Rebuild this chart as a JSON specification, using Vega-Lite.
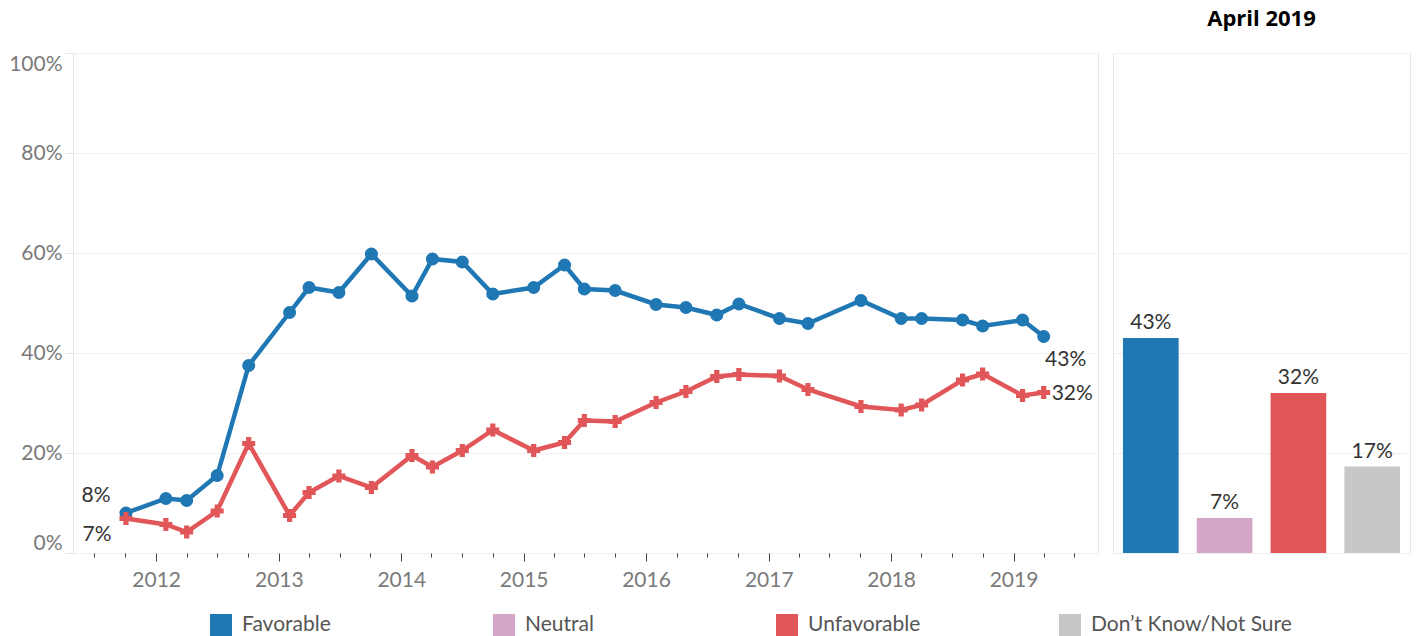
{
  "$schema": "https://vega.github.io/schema/vega-lite/v6.json",
  "background": "white",
  "padding": {"left": 8, "top": 7, "right": 5, "bottom": 0},
  "spacing": 15,
  "bounds": "flush",
  "config": {
    "view": {"stroke": "#e6e6e6", "strokeWidth": 1},
    "font": "Lato",
    "axis": {"labelFont": "Lato"},
    "legend": {
      "title": null,
      "orient": "none",
      "direction": "horizontal",
      "legendX": 137,
      "legendY": 561,
      "padding": 0,
      "symbolType": "square",
      "symbolSize": 484,
      "symbolStrokeWidth": 0,
      "symbolOpacity": 1,
      "labelFontSize": 21,
      "labelFont": "Lato",
      "labelColor": "#555",
      "labelOffset": 10,
      "labelLimit": 400,
      "gridAlign": "all",
      "columnPadding": 50
    }
  },
  "datasets": {
    "trend": [
      {"date": "2011-10-03", "status": "Favorable", "value": 0.080},
      {"date": "2012-01-30", "status": "Favorable", "value": 0.109},
      {"date": "2012-04-01", "status": "Favorable", "value": 0.105},
      {"date": "2012-07-01", "status": "Favorable", "value": 0.155},
      {"date": "2012-10-03", "status": "Favorable", "value": 0.375},
      {"date": "2013-02-02", "status": "Favorable", "value": 0.481},
      {"date": "2013-04-01", "status": "Favorable", "value": 0.531},
      {"date": "2013-06-29", "status": "Favorable", "value": 0.521},
      {"date": "2013-10-04", "status": "Favorable", "value": 0.598},
      {"date": "2014-02-02", "status": "Favorable", "value": 0.514},
      {"date": "2014-04-04", "status": "Favorable", "value": 0.588},
      {"date": "2014-07-02", "status": "Favorable", "value": 0.582},
      {"date": "2014-10-01", "status": "Favorable", "value": 0.518},
      {"date": "2015-01-31", "status": "Favorable", "value": 0.531},
      {"date": "2015-05-03", "status": "Favorable", "value": 0.576},
      {"date": "2015-07-01", "status": "Favorable", "value": 0.528},
      {"date": "2015-10-01", "status": "Favorable", "value": 0.525},
      {"date": "2016-01-31", "status": "Favorable", "value": 0.497},
      {"date": "2016-04-29", "status": "Favorable", "value": 0.491},
      {"date": "2016-07-30", "status": "Favorable", "value": 0.476},
      {"date": "2016-10-04", "status": "Favorable", "value": 0.498},
      {"date": "2017-02-02", "status": "Favorable", "value": 0.469},
      {"date": "2017-04-28", "status": "Favorable", "value": 0.459},
      {"date": "2017-10-03", "status": "Favorable", "value": 0.505},
      {"date": "2018-01-31", "status": "Favorable", "value": 0.469},
      {"date": "2018-04-02", "status": "Favorable", "value": 0.469},
      {"date": "2018-08-02", "status": "Favorable", "value": 0.466},
      {"date": "2018-10-01", "status": "Favorable", "value": 0.454},
      {"date": "2019-01-28", "status": "Favorable", "value": 0.466},
      {"date": "2019-04-01", "status": "Favorable", "value": 0.433},
      {"date": "2011-10-03", "status": "Unfavorable", "value": 0.069},
      {"date": "2012-01-30", "status": "Unfavorable", "value": 0.057},
      {"date": "2012-04-01", "status": "Unfavorable", "value": 0.042},
      {"date": "2012-07-01", "status": "Unfavorable", "value": 0.084},
      {"date": "2012-10-03", "status": "Unfavorable", "value": 0.219},
      {"date": "2013-02-02", "status": "Unfavorable", "value": 0.075},
      {"date": "2013-04-01", "status": "Unfavorable", "value": 0.121},
      {"date": "2013-06-29", "status": "Unfavorable", "value": 0.154},
      {"date": "2013-10-04", "status": "Unfavorable", "value": 0.131},
      {"date": "2014-02-02", "status": "Unfavorable", "value": 0.195},
      {"date": "2014-04-04", "status": "Unfavorable", "value": 0.172},
      {"date": "2014-07-02", "status": "Unfavorable", "value": 0.205},
      {"date": "2014-10-01", "status": "Unfavorable", "value": 0.246},
      {"date": "2015-01-31", "status": "Unfavorable", "value": 0.205},
      {"date": "2015-05-03", "status": "Unfavorable", "value": 0.221},
      {"date": "2015-07-01", "status": "Unfavorable", "value": 0.265},
      {"date": "2015-10-01", "status": "Unfavorable", "value": 0.263},
      {"date": "2016-01-31", "status": "Unfavorable", "value": 0.301},
      {"date": "2016-04-29", "status": "Unfavorable", "value": 0.323},
      {"date": "2016-07-30", "status": "Unfavorable", "value": 0.353},
      {"date": "2016-10-04", "status": "Unfavorable", "value": 0.357},
      {"date": "2017-02-02", "status": "Unfavorable", "value": 0.354},
      {"date": "2017-04-28", "status": "Unfavorable", "value": 0.327},
      {"date": "2017-10-03", "status": "Unfavorable", "value": 0.293},
      {"date": "2018-01-31", "status": "Unfavorable", "value": 0.286},
      {"date": "2018-04-02", "status": "Unfavorable", "value": 0.296},
      {"date": "2018-08-02", "status": "Unfavorable", "value": 0.346},
      {"date": "2018-10-01", "status": "Unfavorable", "value": 0.358},
      {"date": "2019-01-28", "status": "Unfavorable", "value": 0.315},
      {"date": "2019-04-01", "status": "Unfavorable", "value": 0.321}
    ],
    "latest": [
      {"status": "Favorable", "value": 0.43},
      {"status": "Neutral", "value": 0.07},
      {"status": "Unfavorable", "value": 0.32},
      {"status": "Don’t Know/Not Sure", "value": 0.173}
    ]
  },
  "hconcat": [
    {
      "width": 1025,
      "height": 500,
      "data": {"name": "trend"},
      "encoding": {
        "x": {
          "field": "date",
          "type": "temporal",
          "scale": {
            "type": "utc",
            "domain": [
              {"year": 2011, "month": 4, "date": 28, "utc": true},
              {"year": 2019, "month": 9, "date": 10, "utc": true}
            ]
          },
          "axis": {
            "title": null,
            "domain": false,
            "grid": false,
            "values": [
              {"year": 2011, "month": 7, "date": 1, "utc": true},
              {"year": 2011, "month": 10, "date": 1, "utc": true},
              {"year": 2012, "month": 1, "date": 1, "utc": true},
              {"year": 2012, "month": 4, "date": 1, "utc": true},
              {"year": 2012, "month": 7, "date": 1, "utc": true},
              {"year": 2012, "month": 10, "date": 1, "utc": true},
              {"year": 2013, "month": 1, "date": 1, "utc": true},
              {"year": 2013, "month": 4, "date": 1, "utc": true},
              {"year": 2013, "month": 7, "date": 1, "utc": true},
              {"year": 2013, "month": 10, "date": 1, "utc": true},
              {"year": 2014, "month": 1, "date": 1, "utc": true},
              {"year": 2014, "month": 4, "date": 1, "utc": true},
              {"year": 2014, "month": 7, "date": 1, "utc": true},
              {"year": 2014, "month": 10, "date": 1, "utc": true},
              {"year": 2015, "month": 1, "date": 1, "utc": true},
              {"year": 2015, "month": 4, "date": 1, "utc": true},
              {"year": 2015, "month": 7, "date": 1, "utc": true},
              {"year": 2015, "month": 10, "date": 1, "utc": true},
              {"year": 2016, "month": 1, "date": 1, "utc": true},
              {"year": 2016, "month": 4, "date": 1, "utc": true},
              {"year": 2016, "month": 7, "date": 1, "utc": true},
              {"year": 2016, "month": 10, "date": 1, "utc": true},
              {"year": 2017, "month": 1, "date": 1, "utc": true},
              {"year": 2017, "month": 4, "date": 1, "utc": true},
              {"year": 2017, "month": 7, "date": 1, "utc": true},
              {"year": 2017, "month": 10, "date": 1, "utc": true},
              {"year": 2018, "month": 1, "date": 1, "utc": true},
              {"year": 2018, "month": 4, "date": 1, "utc": true},
              {"year": 2018, "month": 7, "date": 1, "utc": true},
              {"year": 2018, "month": 10, "date": 1, "utc": true},
              {"year": 2019, "month": 1, "date": 1, "utc": true},
              {"year": 2019, "month": 4, "date": 1, "utc": true},
              {"year": 2019, "month": 7, "date": 1, "utc": true}
            ],
            "labelExpr": "utcmonth(datum.value) == 0 ? utcFormat(datum.value, '%Y') : ''",
            "labelOverlap": false,
            "tickColor": "#444",
            "tickSize": {"condition": {"test": "utcmonth(datum.value) == 0", "value": 8}, "value": 4},
            "labelFontSize": 21,
            "labelColor": "#7a7a7a",
            "labelPadding": 8
          }
        },
        "y": {
          "field": "value",
          "type": "quantitative",
          "scale": {"domain": [0, 1]},
          "axis": {
            "title": null,
            "domain": false,
            "values": [0, 0.2, 0.4, 0.6, 0.8, 1],
            "format": ".0%",
            "grid": true,
            "gridColor": "#efefef",
            "tickColor": "#e6e6e6",
            "tickSize": 8,
            "labelFontSize": 21,
            "labelColor": "#7a7a7a",
            "labelPadding": 3,
            "labelFlush": true
          }
        }
      },
      "layer": [
        {
          "mark": {"type": "line", "strokeWidth": 4.5},
          "encoding": {
            "color": {
              "field": "status",
              "type": "nominal",
              "scale": {
                "domain": ["Favorable", "Neutral", "Unfavorable", "Don’t Know/Not Sure"],
                "range": ["#1f77b4", "#d4a6c8", "#e15759", "#c7c7c7"]
              }
            }
          }
        },
        {
          "mark": {"type": "point", "filled": true, "opacity": 1, "size": 170},
          "encoding": {
            "color": {"field": "status", "type": "nominal"},
            "shape": {
              "field": "status",
              "type": "nominal",
              "scale": {"domain": ["Favorable", "Unfavorable"], "range": ["circle", "cross"]},
              "legend": null
            }
          }
        },
        {
          "transform": [{"filter": "datum.status == 'Favorable' && utcyear(datum.date) == 2011"}],
          "mark": {"type": "text", "fontSize": 21, "color": "#333", "dx": -30, "dy": -17},
          "encoding": {"text": {"field": "value", "type": "quantitative", "format": ".0%"}}
        },
        {
          "transform": [{"filter": "datum.status == 'Unfavorable' && utcyear(datum.date) == 2011"}],
          "mark": {"type": "text", "fontSize": 21, "color": "#333", "dx": -29, "dy": 16},
          "encoding": {"text": {"field": "value", "type": "quantitative", "format": ".0%"}}
        },
        {
          "transform": [{"filter": "datum.status == 'Favorable' && utcyear(datum.date) == 2019 && utcmonth(datum.date) == 3"}],
          "mark": {"type": "text", "fontSize": 21, "color": "#333", "dx": 22, "dy": 23},
          "encoding": {"text": {"field": "value", "type": "quantitative", "format": ".0%"}}
        },
        {
          "transform": [{"filter": "datum.status == 'Unfavorable' && utcyear(datum.date) == 2019 && utcmonth(datum.date) == 3"}],
          "mark": {"type": "text", "fontSize": 21, "color": "#333", "align": "left", "dx": 8, "dy": 1},
          "encoding": {"text": {"field": "value", "type": "quantitative", "format": ".0%"}}
        }
      ]
    },
    {
      "width": 297,
      "height": 500,
      "title": {"text": "April 2019", "font": "Open Sans", "fontSize": 22, "fontWeight": "bold", "color": "#000", "offset": 22},
      "data": {"name": "latest"},
      "encoding": {
        "x": {
          "field": "status",
          "type": "nominal",
          "sort": ["Favorable", "Neutral", "Unfavorable", "Don’t Know/Not Sure"],
          "scale": {"paddingInner": 0.246, "paddingOuter": 0.135},
          "axis": null
        },
        "y": {
          "field": "value",
          "type": "quantitative",
          "scale": {"domain": [0, 1]},
          "axis": {
            "title": null,
            "labels": false,
            "ticks": false,
            "domain": false,
            "grid": true,
            "gridColor": "#efefef",
            "values": [0, 0.2, 0.4, 0.6, 0.8, 1]
          }
        }
      },
      "layer": [
        {
          "mark": {"type": "bar"},
          "encoding": {
            "color": {
              "field": "status",
              "type": "nominal",
              "scale": {
                "domain": ["Favorable", "Neutral", "Unfavorable", "Don’t Know/Not Sure"],
                "range": ["#1f77b4", "#d4a6c8", "#e15759", "#c7c7c7"]
              }
            }
          }
        },
        {
          "mark": {"type": "text", "fontSize": 21, "color": "#333", "baseline": "bottom", "dy": -5},
          "encoding": {"text": {"field": "value", "type": "quantitative", "format": ".0%"}}
        }
      ]
    }
  ]
}
